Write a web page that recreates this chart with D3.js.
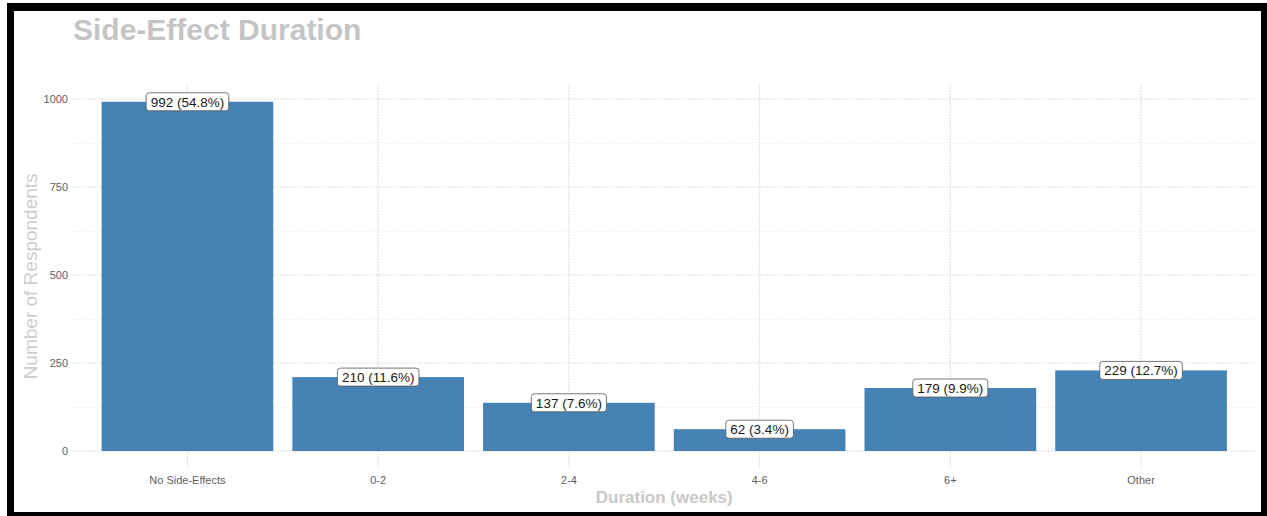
<!DOCTYPE html>
<html>
<head>
<meta charset="utf-8">
<script src="https://cdn.jsdelivr.net/npm/d3@7"></script>
<style>
  html, body { margin: 0; padding: 0; background: #fff; }
  svg { display: block; }
  text { font-family: "Liberation Sans", Arial, Helvetica, sans-serif; }
</style>
</head>
<body>
<svg id="chart" width="1267" height="516"></svg>
<script>
// Survey responses: how long side-effects lasted
const categories = ["No Side-Effects", "0-2", "2-4", "4-6", "6+", "Other"];
const counts = [992, 210, 137, 62, 179, 229];
const yTicks = [0, 250, 500, 750, 1000];
const yMinorTicks = [125, 375, 625, 875];

const titleText = "Side-Effect Duration";
const xTitle = "Duration (weeks)";
const yTitle = "Number of Respondents";

const W = 1267, H = 516;
const panel = { left: 73, right: 1255.5, top: 84.3, bottom: 468.5 };
const barColor = "#4682b4";

const total = d3.sum(counts);
const rows = categories.map((c, i) => ({
  cat: c,
  n: counts[i],
  pct: (counts[i] / total * 100).toFixed(1)
}));

const svg = d3.select("#chart");

// outer frame
svg.append("rect").attr("x", 7).attr("y", 3).attr("width", W - 7).attr("height", H - 3).attr("fill", "#000");
svg.append("rect").attr("x", 14).attr("y", 11).attr("width", 1247).attr("height", 501).attr("fill", "#fff");

const yMax = d3.max(counts);
const y = d3.scaleLinear()
  .domain([-0.05 * yMax, 1.05 * yMax])
  .range([panel.bottom, panel.top]);

const x = d3.scaleBand()
  .domain(categories)
  .range([panel.left, panel.right])
  .paddingInner(0.1)
  .paddingOuter(0.15);

// grid
const grid = svg.append("g");
grid.selectAll("line.minor").data(yMinorTicks).join("line")
  .attr("class", "minor")
  .attr("x1", panel.left).attr("x2", panel.right)
  .attr("y1", d => y(d)).attr("y2", d => y(d))
  .attr("stroke", "#e6e6e6").attr("stroke-width", 0.8)
  .attr("stroke-dasharray", "1.5,1.5");
grid.selectAll("line.major").data(yTicks).join("line")
  .attr("class", "major")
  .attr("x1", panel.left).attr("x2", panel.right)
  .attr("y1", d => y(d)).attr("y2", d => y(d))
  .attr("stroke", "#d2d2d2").attr("stroke-width", 1)
  .attr("stroke-dasharray", "1.5,1.5");
grid.selectAll("line.vert").data(categories).join("line")
  .attr("class", "vert")
  .attr("x1", d => x(d) + x.bandwidth() / 2).attr("x2", d => x(d) + x.bandwidth() / 2)
  .attr("y1", panel.top).attr("y2", panel.bottom)
  .attr("stroke", "#d2d2d2").attr("stroke-width", 1)
  .attr("stroke-dasharray", "1.5,1.5");

// bars
svg.append("g").selectAll("rect").data(rows).join("rect")
  .attr("x", d => x(d.cat))
  .attr("width", x.bandwidth())
  .attr("y", d => y(d.n))
  .attr("height", d => y(0) - y(d.n))
  .attr("fill", barColor);

// axes (labels only)
const yAxis = svg.append("g")
  .attr("transform", `translate(${panel.left - 5},0)`)
  .call(d3.axisLeft(y).tickValues(yTicks).tickFormat(d3.format("d")).tickSize(0).tickPadding(0));
yAxis.select(".domain").remove();
yAxis.selectAll("text")
  .attr("font-size", 11).attr("fill", "#5f5f5f")
  .style("font-family", "'Liberation Sans', Arial, sans-serif");

const xAxis = svg.append("g")
  .attr("transform", `translate(0,${panel.bottom})`)
  .call(d3.axisBottom(x).tickSize(0).tickPadding(8));
xAxis.select(".domain").remove();
xAxis.selectAll("text")
  .attr("font-size", 11).attr("fill", "#5f5f5f")
  .style("font-family", "'Liberation Sans', Arial, sans-serif");

// value labels
const lab = svg.append("g").selectAll("g").data(rows).join("g")
  .attr("transform", d => `translate(${x(d.cat) + x.bandwidth() / 2},${y(d.n)})`);
lab.append("text")
  .attr("text-anchor", "middle")
  .attr("dy", "0.36em")
  .attr("font-size", 13.5)
  .attr("fill", "#1a1a1a")
  .text(d => `${d.n} (${d.pct}%)`);
lab.each(function() {
  const g = d3.select(this);
  const bb = g.select("text").node().getBBox();
  g.insert("rect", "text")
    .attr("x", bb.x - 4.5).attr("y", -9)
    .attr("width", bb.width + 9).attr("height", 18)
    .attr("rx", 3).attr("ry", 3)
    .attr("fill", "#fff").attr("stroke", "#555").attr("stroke-width", 0.8);
});

// titles
svg.append("text")
  .attr("x", panel.left).attr("y", 40)
  .attr("font-size", 30).attr("font-weight", "bold")
  .attr("fill", "#c4c4c4")
  .text(titleText);

svg.append("text")
  .attr("x", (panel.left + panel.right) / 2).attr("y", 503)
  .attr("text-anchor", "middle")
  .attr("font-size", 17).attr("font-weight", "bold")
  .attr("fill", "#c8c8c8")
  .text(xTitle);

svg.append("text")
  .attr("transform", `translate(37,${(panel.top + panel.bottom) / 2}) rotate(-90)`)
  .attr("text-anchor", "middle")
  .attr("font-size", 19)
  .attr("fill", "#cccccc")
  .text(yTitle);
</script>
</body>
</html>
